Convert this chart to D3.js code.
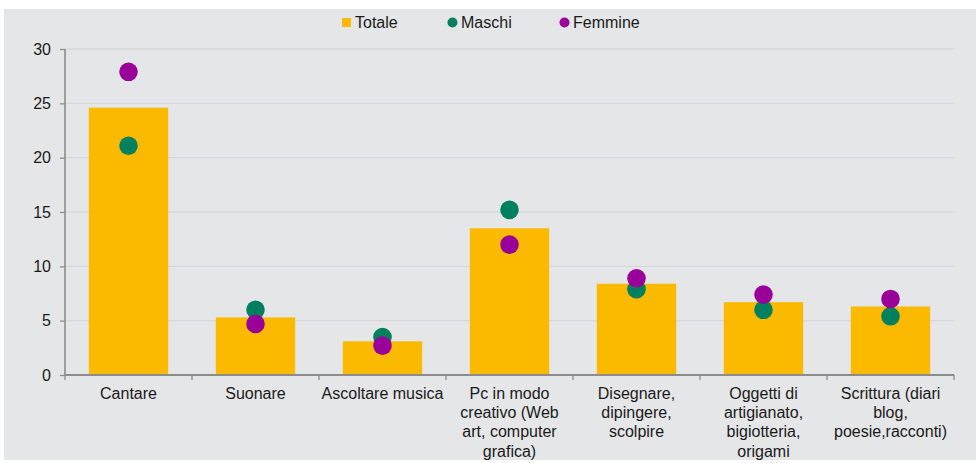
<!DOCTYPE html>
<html>
<head>
<meta charset="utf-8">
<script src="https://cdn.jsdelivr.net/npm/d3@7/dist/d3.min.js"></script>
<style>
  html, body { margin: 0; padding: 0; background: #ffffff; }
  svg { display: block; }
  text { font-family: "Liberation Sans", Arial, sans-serif; fill: #1a1a1a; }
</style>
</head>
<body>
<svg id="chart" width="977" height="463"></svg>
<script>
const categories = [
  "Cantare",
  "Suonare",
  "Ascoltare musica",
  "Pc in modo creativo (Web art, computer grafica)",
  "Disegnare, dipingere, scolpire",
  "Oggetti di artigianato, bigiotteria, origami",
  "Scrittura (diari blog, poesie,racconti)"
];
const totale  = [24.6, 5.3, 3.1, 13.5, 8.4, 6.7, 6.3];
const maschi  = [21.1, 6.0, 3.5, 15.2, 7.9, 6.0, 5.4];
const femmine = [27.9, 4.7, 2.7, 12.0, 8.9, 7.4, 7.0];
const yTicks  = [0, 5, 10, 15, 20, 25, 30];
const seriesNames = ["Totale", "Maschi", "Femmine"];

(function () {
const colors = { Totale: "#FBBA00", Maschi: "#00805F", Femmine: "#990099" };

const svg = d3.select("#chart");
svg.append("rect").attr("x", 4).attr("y", 9).attr("width", 972).attr("height", 451).attr("fill", "#E5E6E8");

const pLeft = 65, pRight = 954, pTop = 49, pBottom = 375;
const x = d3.scaleBand().domain(categories).range([pLeft, pRight]).paddingInner(0.375).paddingOuter(0.1875);
const xb = d3.scaleBand().domain(categories).range([pLeft, pRight]).padding(0);
const y = d3.scaleLinear().domain([0, 30]).range([pBottom, pTop]);

// gridlines
svg.append("g").selectAll("line").data(yTicks.filter(t => t > 0)).join("line")
  .attr("x1", pLeft).attr("x2", pRight)
  .attr("y1", d => y(d)).attr("y2", d => y(d))
  .attr("stroke", "#D6D7D9").attr("stroke-width", 1.3);

// bars
svg.append("g").selectAll("rect").data(categories).join("rect")
  .attr("x", d => x(d)).attr("width", x.bandwidth())
  .attr("y", (d, i) => y(totale[i])).attr("height", (d, i) => y(0) - y(totale[i]))
  .attr("fill", colors.Totale);

// points
const pts = svg.append("g");
pts.selectAll("circle.m").data(categories).join("circle").attr("class", "m")
  .attr("cx", d => xb(d) + xb.bandwidth() / 2).attr("cy", (d, i) => y(maschi[i]))
  .attr("r", 9.3).attr("fill", colors.Maschi);
pts.selectAll("circle.f").data(categories).join("circle").attr("class", "f")
  .attr("cx", d => xb(d) + xb.bandwidth() / 2).attr("cy", (d, i) => y(femmine[i]))
  .attr("r", 9.3).attr("fill", colors.Femmine);

// y axis
const yAxis = svg.append("g").attr("transform", `translate(${pLeft},0)`)
  .call(d3.axisLeft(y).tickValues(yTicks).tickSize(5).tickPadding(9));
yAxis.select(".domain").attr("stroke", "#8C8C8C").attr("stroke-width", 1.6).attr("d", `M0,${pTop}V${pBottom}`);
yAxis.selectAll(".tick line").attr("stroke", "#8C8C8C").attr("stroke-width", 1.3);
yAxis.selectAll(".tick text").attr("font-size", 16).attr("font-family", "Liberation Sans, Arial, sans-serif").attr("fill", "#1a1a1a");

// x axis
const xAxisG = svg.append("g").attr("transform", `translate(0,${pBottom})`);
xAxisG.append("line").attr("x1", pLeft).attr("x2", pRight).attr("stroke", "#8C8C8C").attr("stroke-width", 2);
const bounds = categories.map(c => xb(c)).concat([pRight]);
xAxisG.selectAll("line.t").data(bounds).join("line").attr("class", "t")
  .attr("x1", d => d).attr("x2", d => d).attr("y1", 0).attr("y2", 5)
  .attr("stroke", "#8C8C8C").attr("stroke-width", 1.3);

const labels = xAxisG.selectAll("text.cat").data(categories).join("text").attr("class", "cat")
  .attr("x", d => xb(d) + xb.bandwidth() / 2).attr("y", 24)
  .attr("text-anchor", "middle").attr("font-size", 16);

function wrap(textSel, width) {
  textSel.each(function(d) {
    const t = d3.select(this);
    const words = d.split(/\s+/);
    let line = [];
    const cx = t.attr("x");
    let tspan = t.append("tspan").attr("x", cx).attr("dy", 0);
    words.forEach(w => {
      line.push(w);
      tspan.text(line.join(" "));
      if (tspan.node().getComputedTextLength() > width && line.length > 1) {
        line.pop();
        tspan.text(line.join(" "));
        line = [w];
        tspan = t.append("tspan").attr("x", cx).attr("dy", "1.2em").text(w);
      }
    });
  });
}
wrap(labels, 123);

// legend
const lg = svg.append("g");
lg.append("rect").attr("x", 342).attr("y", 18).attr("width", 9).attr("height", 9).attr("fill", colors.Totale);
lg.append("text").attr("x", 355).attr("y", 28).attr("font-size", 16).text(seriesNames[0]);
lg.append("circle").attr("cx", 452.5).attr("cy", 22.5).attr("r", 5).attr("fill", colors.Maschi);
lg.append("text").attr("x", 461).attr("y", 28).attr("font-size", 16).text(seriesNames[1]);
lg.append("circle").attr("cx", 564.5).attr("cy", 22.5).attr("r", 5).attr("fill", colors.Femmine);
lg.append("text").attr("x", 573).attr("y", 28).attr("font-size", 16).text(seriesNames[2]);
})();
</script>
</body>
</html>
